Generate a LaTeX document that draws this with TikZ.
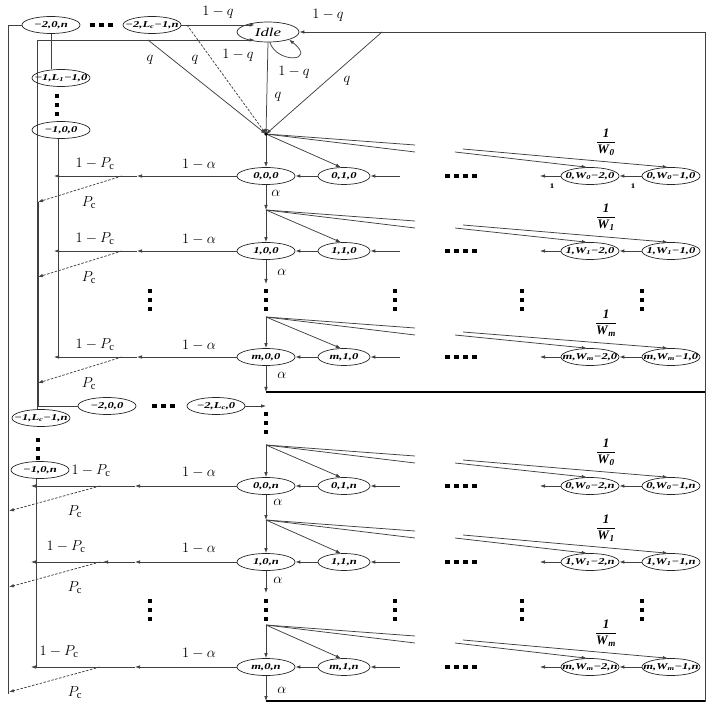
\documentclass[tikz,border=0pt]{standalone}
\usepackage{amsmath}
\usepackage{fontspec}
\setmainfont{Liberation Serif}
\newfontfamily\stfam[FakeStretch=1.4]{Liberation Serif}
\usetikzlibrary{shapes.geometric,arrows.meta}
\newcommand\stf{\stfam\fontsize{9}{10}\selectfont\bfseries\itshape}
\newcommand\lbf{\fontsize{15}{16}\selectfont}
\newcommand\frf{\fontsize{13}{14}\selectfont}
\newcommand\bi[1]{\textbf{\textit{#1}}}
\newcommand\vsq[2]{\foreach \k in {0,1,2}{\fill (#1-2,#2+9*\k-2) rectangle ++(4,4);}}
\newcommand\hsq[3]{\foreach \k in {1,...,#3}{\fill (#1+9*\k-9,#2-2) rectangle ++(4.5,4);}}
\tikzset{
 st/.style={ellipse, draw=black!85, line width=0.7pt, minimum width=58pt, minimum height=17pt, inner xsep=-14pt, inner ysep=0pt, font=\stf},
 st2/.style={st, minimum width=52pt},
 idl/.style={st, minimum width=62pt, minimum height=20pt, font=\stfam\fontsize{12}{12}\selectfont\itshape},
 ln/.style={draw=black!75, line width=0.75pt},
 tk/.style={draw=black, line width=1.2pt},
 ar/.style={ln, -{Latex[length=5pt,width=3.6pt]}},
 da/.style={ar, dash pattern=on 2.5pt off 1.5pt},
 lb/.style={font=\lbf, inner sep=0pt},
 fr/.style={font=\frf, inner sep=0pt},
}
\begin{document}
\begin{tikzpicture}[x=1pt,y=-1pt]
\useasboundingbox (0,0) rectangle (718,711);
% ---- left / top states
\node[st] (a2n) at (51,25) {−2,0,n};
\node[st] (a2L) at (152,25) {−2,L\textsubscript{c}−1,n};
\node[idl] (idle) at (268,32) {Idle};
\node[st] (a1L) at (61,78) {−1,L\textsubscript{1}−1,0};
\node[st] (a10) at (61,130) {−1,0,0};
\node[st] (b20) at (107,406) {−2,0,0};
\node[st] (b2L) at (216,406) {−2,L\textsubscript{c},0};
\node[st] (b1L) at (41,418) {−1,L\textsubscript{c}−1,n};
\node[st] (b10) at (40,470) {−1,0,n};
% ---- grid rows
\foreach \i/\yy/\py/\rw/\sx/\wx in {u0/176/134/0/0/0, u1/251/210/1/0/1, um/357/317/m/0/m, l0/486/445/0/n/0, l1/562/520/1/n/1, lm/667/625/m/n/m}{
 \node[st] (a\i) at (266,\yy) {\rw,0,\sx};
 \node[st2] (b\i) at (344,\yy) {\rw,1,\sx};
 \node[st] (c\i) at (590,\yy) {\rw,W\textsubscript{\wx}−2,\sx};
 \node[st] (d\i) at (671,\yy) {\rw,W\textsubscript{\wx}−1,\sx};
 \coordinate (p\i) at (266,\py);
 \coordinate (fa\i) at (415,\py+11);
 \coordinate (fb\i) at (415,\py+18);
 \coordinate (ga\i) at (455,\py+18);
 \coordinate (gb\i) at (463,\py+15);
 \coordinate (in\i) at (400,\yy);
 \coordinate (out\i) at (540,\yy);
 \draw[ar] (p\i) -- (a\i.north);
 \draw[ar] (p\i) -- (b\i.110);
 \draw[ln] (p\i) -- (fa\i);
 \draw[ln] (p\i) -- (fb\i);
 \draw[ar] (ga\i) -- (c\i.110);
 \draw[ar] (gb\i) -- (d\i.110);
 \draw[ar] (in\i) -- (b\i.east);
 \draw[ar] (b\i.west) -- (a\i.east);
 \draw[ar] (d\i.west) -- (c\i.east);
 \draw[ar] (c\i.west) -- (out\i);
 \node[fr] at (606,\yy-34) {$\dfrac{\bi{1}}{\bi{W}_{\bi{\wx}}}$};
 \hsq{445}{\yy}{4}
}
% ---- upper left transitions
\foreach \i/\yy in {u0/176,u1/251,um/357}{
 \coordinate (m\i) at (137,\yy);
 \coordinate (j\i) at (122,\yy);
 \coordinate (e\i) at (54,\yy);
 \coordinate (q\i) at (38,\yy+26);
 \draw[ar] (a\i.west) -- (m\i);
 \draw[ar] (m\i) -- (e\i);
 \draw[da] (j\i) -- (q\i);
 \node[lb] at (199,\yy-12) {$1-\alpha$};
 \node[lb] at (95,\yy-12) {$1-P_{\mathrm{c}}$};
 \node[lb] at (89,\yy+27) {$P_{\mathrm{c}}$};
}
% ---- lower left transitions
\foreach \i/\yy/\px in {l0/486/91,l1/562/66,lm/667/59}{
 \coordinate (m\i) at (135,\yy);
 \coordinate (j\i) at (100,\yy);
 \coordinate (e\i) at (31,\yy);
 \coordinate (q\i) at (9,\yy+25);
 \draw[ar] (a\i.west) -- (m\i);
 \draw[ar] (m\i) -- (e\i);
 \draw[da] (j\i) -- (q\i);
 \node[lb] at (199,\yy-14) {$1-\alpha$};
 \node[lb] at (\px,\yy-15) {$1-P_{\mathrm{c}}$};
 \node[lb] at (75,\yy+26) {$P_{\mathrm{c}}$};
}
\coordinate (kl1) at (103,562);
\draw[ar] (ml1) -- (kl1);
% ---- vertical collector lines
\coordinate (ol) at (8,694);
\draw[ln] (a2n.west) -| (ol);
\coordinate (ja) at (148,40);
\draw[ln] (b1L.115) |- (ja);
\draw[ln] (a2n.south) -- (a2n.south |- a1L.north);
\draw[ln] (a10.255) -- (a10.255 |- eum);
\draw[ln] (qu0) |- (b20.west);
\draw[ln] (b10.250) -- (b10.250 |- elm);
% ---- top: into idle and to first split
\draw[ar] (ja) -- (ja -| idle.215);
\draw[ar] (a2L.east) -- (a2L.east -| idle.145);
\coordinate (jd) at (187,25);
\draw[ar] (ja) -- (pu0);
\draw[da] (jd) -- (pu0);
\draw[ar] (idle.south) -- (pu0);
\draw[ar] (idle.280) .. controls (277,64) and (318,62) .. (idle.340);
% ---- frame
\coordinate (fTL) at (382,32);
\coordinate (fTR) at (705,32);
\coordinate (fBR) at (705,701);
\coordinate (jum) at (266,392);
\coordinate (jlm) at (266,701);
\draw[ln] (jlm) -- (fBR) -- (fTR) -- (fTL);
\draw[ar] (fTL) -- (idle.east);
\draw[ar] (fTL) -- (pu0);
\draw[tk] (jum) -- (jum -| fBR);
\draw[tk] (jlm) -- (fBR);
\fill (pu0) circle (1.8pt);
% ---- alpha arrows down the first column
\coordinate (du1) at (266,284);
\coordinate (dl1) at (266,593);
\coordinate (e2) at (266,406);
\draw[ar] (au0.south) -- (pu1);
\draw[ar] (au1.south) -- (du1);
\draw[ar] (aum.south) -- (jum);
\draw[ar] (b2L.east) -- (e2);
\draw[ar] (al0.south) -- (pl1);
\draw[ar] (al1.south) -- (dl1);
\draw[ar] (alm.south) -- (jlm);
\foreach \yy/\xx in {193/276,272/282,375/282,502/278,580/278,690/282}{
 \node[lb] at (\xx,\yy) {$\alpha$};
}
% ---- top labels
\node[lb] at (218,12) {$1-q$};
\node[lb] at (238,55) {$1-q$};
\node[lb] at (150,60) {$q$};
\node[lb] at (195,60) {$q$};
\node[lb] at (294,72) {$1-q$};
\node[lb] at (278,97) {$q$};
\node[lb] at (328,15) {$1-q$};
\node[lb] at (347,81) {$q$};
\node[font=\stfam\fontsize{7}{7}\selectfont\bfseries] at (552,186) {1};
\node[font=\stfam\fontsize{7}{7}\selectfont\bfseries] at (633,186) {1};
% ---- dots
\hsq{90}{25}{3}
\hsq{152}{406}{3}
\vsq{57}{96}
\vsq{38}{440}
\vsq{266}{291}
\vsq{266}{414}
\vsq{266}{601}
\foreach \xx in {150,395,522,642}{
 \vsq{\xx}{291}
 \vsq{\xx}{601}
}
\end{tikzpicture}
\end{document}
